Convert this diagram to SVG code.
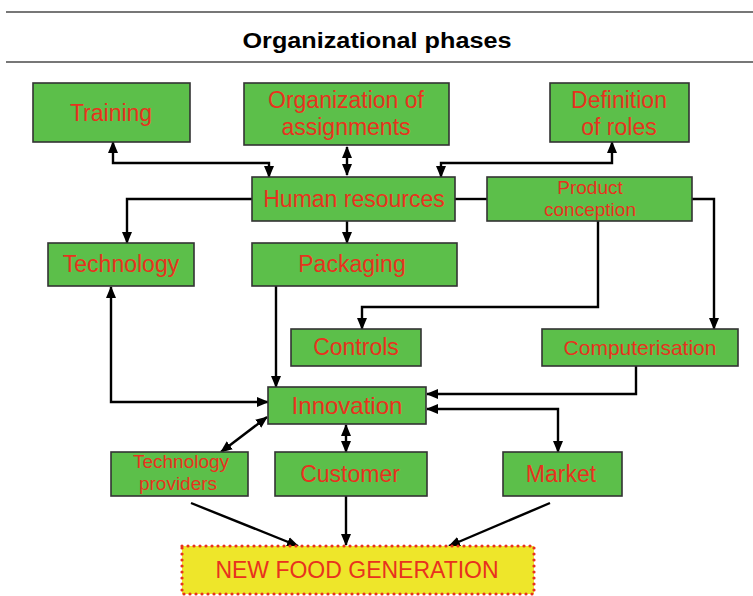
<svg xmlns="http://www.w3.org/2000/svg" width="753" height="596" viewBox="0 0 753 596">
<style>
.box{fill:#5cbf4a;stroke:#333;stroke-width:1.6}
.t{font-family:"Liberation Sans",Arial,sans-serif;fill:#e8321e;text-anchor:middle;font-size:23px}
.s19{font-size:19px}
.s21{font-size:21px}
.s24{font-size:24px}
.c{fill:none;stroke:#000;stroke-width:2.4}
.b{marker-start:url(#ah);marker-end:url(#ah)}
.e{marker-end:url(#ah)}
.rule{stroke:#777;stroke-width:2}
</style>
<defs>
<marker id="ah" markerUnits="userSpaceOnUse" markerWidth="12" markerHeight="12" viewBox="0 0 12 12" refX="11" refY="6" orient="auto-start-reverse">
<path d="M0,1 L12,6 L0,11 Z" fill="#000"/>
</marker>
</defs>
<rect width="753" height="596" fill="#fff"/>
<g id="header">
<line class="rule" x1="6" y1="12" x2="753" y2="12"/>
<line class="rule" x1="6" y1="62" x2="753" y2="62"/>
<text x="377" y="48" font-family="'Liberation Sans',Arial,sans-serif" font-weight="bold" font-size="22" text-anchor="middle" fill="#000" textLength="269" lengthAdjust="spacingAndGlyphs">Organizational phases</text>
</g>
<g id="connectors">
<path class="c b" d="M113,142 V163 H269 V177"/>
<path class="c b" d="M347,147 V175"/>
<path class="c b" d="M612,142 V163 H441 V177"/>
<path class="c e" d="M252,199 H127 V243"/>
<path class="c" d="M455,199 H487"/>
<path class="c e" d="M692,199 H714 V329"/>
<path class="c e" d="M347,221 V243"/>
<path class="c e" d="M598,221 V307 H362 V329"/>
<path class="c e" d="M276,286 V387"/>
<path class="c b" d="M111,287 V402 H268"/>
<path class="c e" d="M636,366 V394 H427"/>
<path class="c b" d="M427,409 H558 V452"/>
<path class="c b" d="M346,425 V452"/>
<path class="c b" d="M267,417 L221,452"/>
<path class="c e" d="M191,503 L298,546"/>
<path class="c e" d="M346,496 V545"/>
<path class="c e" d="M550,503 L449,546"/>
</g>
<g id="training"><rect class="box" x="33" y="83" width="157" height="59"/><text class="t" x="111" y="121">Training</text></g>
<g id="organization"><rect class="box" x="244" y="83" width="205" height="62"/><text class="t" x="346" y="108">Organization of</text><text class="t" x="346" y="135">assignments</text></g>
<g id="definition"><rect class="box" x="550" y="83" width="139" height="59"/><text class="t" x="619" y="108">Definition</text><text class="t" x="619" y="135">of roles</text></g>
<g id="human-resources"><rect class="box" x="252" y="177" width="203" height="44"/><text class="t" x="354" y="207">Human resources</text></g>
<g id="product-conception"><rect class="box" x="487" y="177" width="205" height="44"/><text class="t s19" x="590" y="194">Product</text><text class="t s19" x="590" y="216">conception</text></g>
<g id="technology"><rect class="box" x="48" y="243" width="146" height="43"/><text class="t" x="121" y="272">Technology</text></g>
<g id="packaging"><rect class="box" x="252" y="243" width="205" height="43"/><text class="t" x="352" y="272">Packaging</text></g>
<g id="controls"><rect class="box" x="291" y="329" width="130" height="37"/><text class="t" x="356" y="355">Controls</text></g>
<g id="computerisation"><rect class="box" x="542" y="329" width="196" height="37"/><text class="t s21" x="640" y="355">Computerisation</text></g>
<g id="innovation"><rect class="box" x="268" y="387" width="158" height="37"/><text class="t s24" x="347" y="414">Innovation</text></g>
<g id="technology-providers"><rect class="box" x="111" y="452" width="137" height="44"/><text class="t s19" x="181" y="468">Technology</text><text class="t s19" x="178" y="490">providers</text></g>
<g id="customer"><rect class="box" x="275" y="452" width="152" height="44"/><text class="t" x="350" y="482">Customer</text></g>
<g id="market"><rect class="box" x="503" y="452" width="119" height="44"/><text class="t" x="561" y="482">Market</text></g>
<g id="new-food-generation"><rect x="182" y="546" width="352" height="48" fill="#eee62a" stroke="#e8321e" stroke-width="3.2" stroke-linecap="round" stroke-dasharray="0 6"/><text class="t" x="357" y="578">NEW FOOD GENERATION</text></g>
</svg>
